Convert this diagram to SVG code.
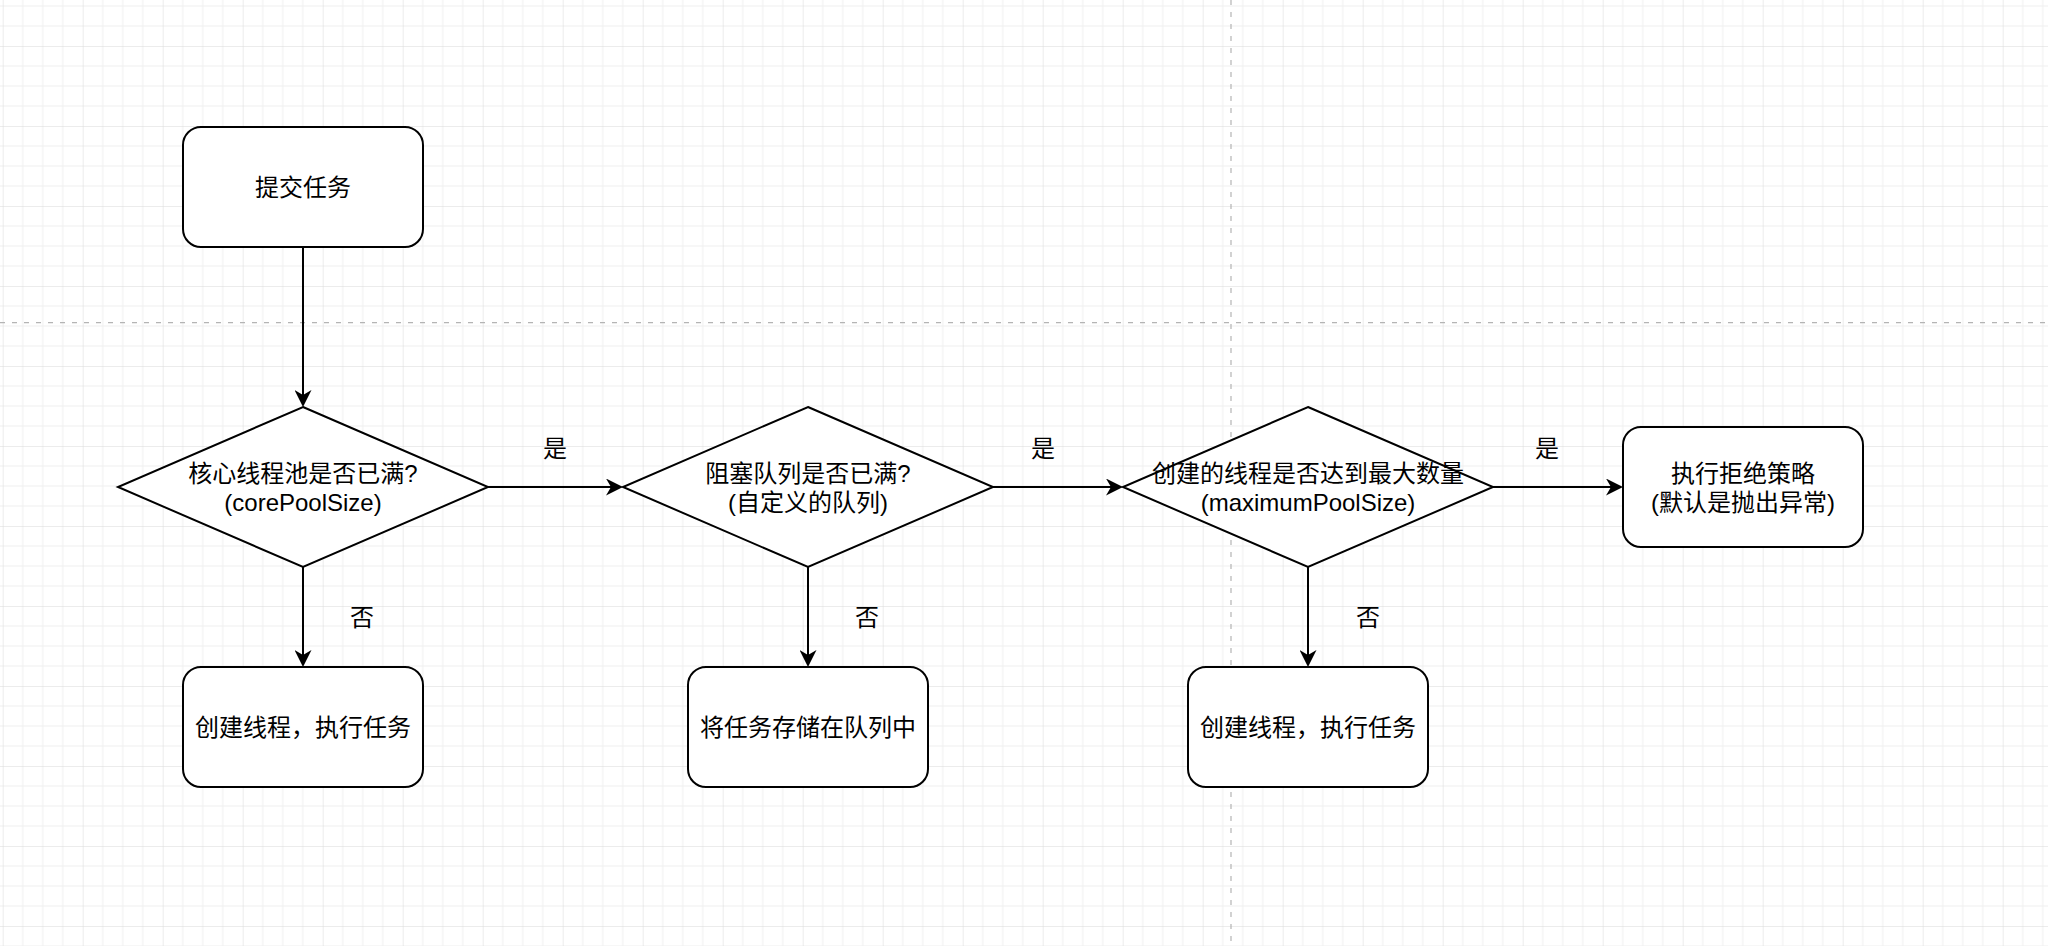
<svg xmlns="http://www.w3.org/2000/svg" width="2048" height="946" viewBox="0 0 2048 946">
  <defs>
    <pattern id="grid" patternUnits="userSpaceOnUse" x="2.7" y="46" width="80" height="80">
      <rect x="0" y="0" width="80" height="80" fill="#ffffff"/>
      <g fill="#f0f0f0">
        <rect x="19.5" y="0" width="1" height="80"/>
        <rect x="39.5" y="0" width="1" height="80"/>
        <rect x="59.5" y="0" width="1" height="80"/>
        <rect x="0" y="19.5" width="80" height="1"/>
        <rect x="0" y="39.5" width="80" height="1"/>
        <rect x="0" y="59.5" width="80" height="1"/>
      </g>
      <g fill="#dadada">
        <rect x="-0.5" y="0" width="1" height="80"/>
        <rect x="0" y="-0.5" width="80" height="1"/>
      </g>
    </pattern>
    <marker id="arrow" markerUnits="userSpaceOnUse" viewBox="0 0 17 17" markerWidth="17" markerHeight="17" refX="7" refY="8.5" orient="auto">
      <path d="M0,0 L17,8.5 L0,17 L5,8.5 Z" fill="#000"/>
    </marker>
  </defs>
  <style>
    .shape { fill: #ffffff; stroke: #000000; stroke-width: 2; }
    .edge { fill: none; stroke: #000000; stroke-width: 2; marker-end: url(#arrow); }
    .page { stroke: #b4b4b4; stroke-width: 1.2; stroke-dasharray: 5 7; }
    text { font-family: "Liberation Sans", "Noto Sans CJK SC", sans-serif; font-size: 24px; fill: #000000; text-anchor: middle; }
  </style>

  <rect x="0" y="0" width="2048" height="946" fill="url(#grid)"/>
  <g id="page-breaks">
    <line class="page" x1="0" y1="322.7" x2="2048" y2="322.7"/>
    <line class="page" x1="1231" y1="0" x2="1231" y2="946"/>
  </g>

  <g id="connectors">
    <path class="edge" d="M303,247 L303,397"/>
    <path class="edge" d="M488,487 L613,487"/>
    <path class="edge" d="M993,487 L1113,487"/>
    <path class="edge" d="M1493,487 L1613,487"/>
    <path class="edge" d="M303,567 L303,657"/>
    <path class="edge" d="M808,567 L808,657"/>
    <path class="edge" d="M1308,567 L1308,657"/>
    <text x="555" y="456.5">是</text>
    <text x="1043" y="456.5">是</text>
    <text x="1547" y="456.5">是</text>
    <text x="362" y="626">否</text>
    <text x="867" y="626">否</text>
    <text x="1368" y="626">否</text>
  </g>

  <g id="submit">
    <rect class="shape" x="183" y="127" width="240" height="120" rx="18" ry="18"/>
    <text x="303" y="196">提交任务</text>
  </g>

  <g id="core-full">
    <polygon class="shape" points="303,407 488,487 303,567 118,487"/>
    <text x="303" y="482">核心线程池是否已满?</text>
    <text x="303" y="511">(corePoolSize)</text>
  </g>

  <g id="queue-full">
    <polygon class="shape" points="808,407 993,487 808,567 623,487"/>
    <text x="808" y="482">阻塞队列是否已满?</text>
    <text x="808" y="511">(自定义的队列)</text>
  </g>

  <g id="max-reached">
    <polygon class="shape" points="1308,407 1493,487 1308,567 1123,487"/>
    <text x="1308" y="482">创建的线程是否达到最大数量</text>
    <text x="1308" y="511">(maximumPoolSize)</text>
  </g>

  <g id="reject">
    <rect class="shape" x="1623" y="427" width="240" height="120" rx="18" ry="18"/>
    <text x="1743" y="482">执行拒绝策略</text>
    <text x="1743" y="511">(默认是抛出异常)</text>
  </g>

  <g id="create-core">
    <rect class="shape" x="183" y="667" width="240" height="120" rx="18" ry="18"/>
    <text x="303" y="736">创建线程，执行任务</text>
  </g>

  <g id="enqueue">
    <rect class="shape" x="688" y="667" width="240" height="120" rx="18" ry="18"/>
    <text x="808" y="736">将任务存储在队列中</text>
  </g>

  <g id="create-max">
    <rect class="shape" x="1188" y="667" width="240" height="120" rx="18" ry="18"/>
    <text x="1308" y="736">创建线程，执行任务</text>
  </g>
</svg>
